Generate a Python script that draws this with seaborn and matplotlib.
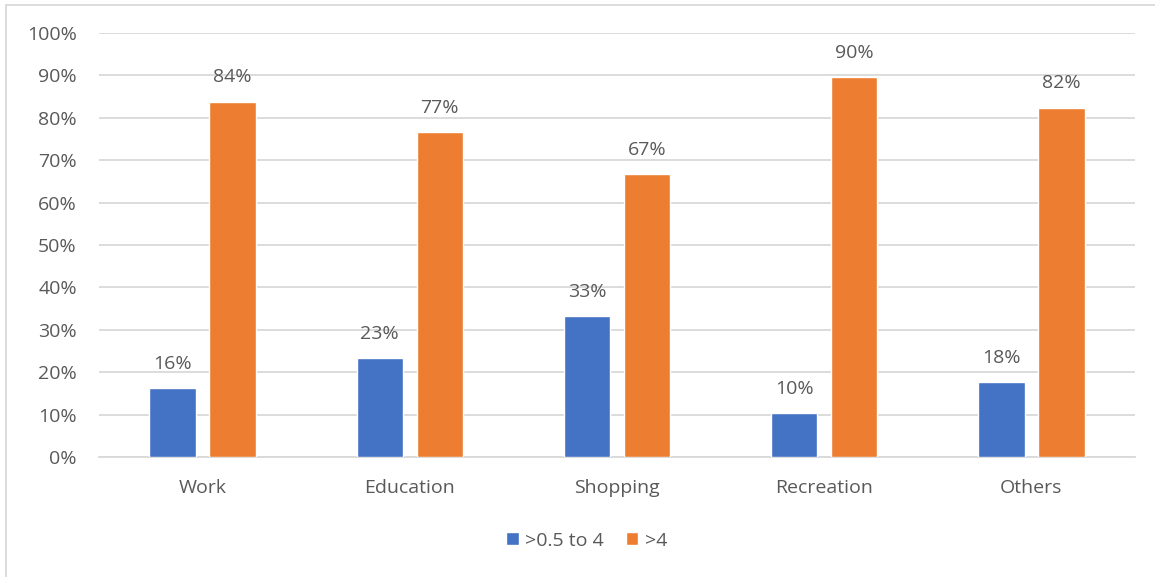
import matplotlib
matplotlib.use("Agg")
import matplotlib.pyplot as plt
import seaborn as sns
import pandas as pd
from matplotlib.patches import Rectangle

categories = ["Work", "Education", "Shopping", "Recreation", "Others"]
series_names = [">0.5 to 4", ">4"]
short_trips = [16.2, 23.3, 33.3, 10.4, 17.6]
long_trips = [83.8, 76.7, 66.7, 89.6, 82.4]
y_ticks = [0, 10, 20, 30, 40, 50, 60, 70, 80, 90, 100]
colors = ["#4472C4", "#ED7D31"]

df = pd.DataFrame({
    "category": categories * 2,
    "group": [series_names[0]] * len(categories) + [series_names[1]] * len(categories),
    "share": short_trips + long_trips,
})

sns.set_theme(style="white")
plt.rcParams["font.family"] = ["Open Sans", "DejaVu Sans"]
text_color = "#595959"
grid_color = "#D9D9D9"
fs = 14

fig = plt.figure(figsize=(11.55, 5.77), dpi=100)
ax = fig.add_axes([0.0857, 0.208, 0.8970, 0.7348])

sns.barplot(data=df, x="category", y="share", hue="group", order=categories,
            hue_order=series_names, palette=colors, width=0.58, gap=0.23,
            saturation=1, errorbar=None, ax=ax, zorder=3)

for container in ax.containers:
    ax.bar_label(container, labels=[f"{v:.0f}%" for v in container.datavalues],
                 padding=11, fontsize=fs, color=text_color)

ax.set_ylim(0, 100)
ax.set_xlim(-0.5, len(categories) - 0.5)
ax.set_yticks(y_ticks)
ax.set_yticklabels([f"{t}%" for t in y_ticks])
ax.yaxis.grid(True, color=grid_color, linewidth=1.3, zorder=0)
ax.set_axisbelow(True)
for s in ["top", "right", "left"]:
    ax.spines[s].set_visible(False)
ax.spines["bottom"].set_color(grid_color)
ax.spines["bottom"].set_linewidth(1.3)
ax.tick_params(axis="y", length=0, pad=16, labelsize=fs, labelcolor=text_color)
ax.tick_params(axis="x", length=0, pad=16, labelsize=fs, labelcolor=text_color)
ax.set_xlabel("")
ax.set_ylabel("")

handles, labels = ax.get_legend_handles_labels()
ax.legend_.remove()
fig.legend(handles, labels, loc="center", bbox_to_anchor=(0.508, 0.063), ncol=2,
           frameon=False, fontsize=fs, labelcolor=text_color,
           handlelength=0.65, handleheight=0.65, handletextpad=0.35, columnspacing=1.1)

fig.patches.append(Rectangle((6 / 1155, -0.1), 1.2, 1 - 5 / 577 + 0.1,
                             transform=fig.transFigure, fill=False,
                             edgecolor=grid_color, linewidth=1.3))

fig.savefig("out.png", dpi=100)
